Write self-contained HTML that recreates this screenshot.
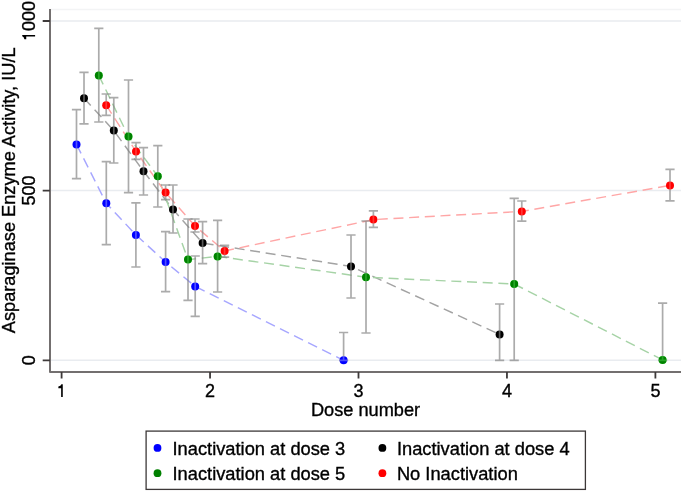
<!DOCTYPE html>
<html><head><meta charset="utf-8"><style>
html,body{margin:0;padding:0;background:#fff;width:685px;height:497px;overflow:hidden}
svg{display:block;filter:blur(0.45px)}
text{font-family:"Liberation Sans",sans-serif}
</style></head><body>
<svg width="685" height="497" viewBox="0 0 685 497">
<rect width="685" height="497" fill="#fff"/>
<g stroke="#e9ecf0" stroke-width="1.5">
<path d="M51,21H681M51,190.6H681M51,360.3H681"/><path stroke="#f3f4f5" d="M51,9.5H681"/>
</g>
<g><polyline points="76.5,144.4 106.3,203.3 135.9,234.9 165.6,262 195.2,286.4 343.6,360.3" fill="none" stroke="#a6a6ff" stroke-width="1.45" stroke-dasharray="10 5.7"/><polyline points="84,98.2 113.8,130.6 143.5,171.2 173,209.4 202.6,243 351,266.4 499.6,334.4" fill="none" stroke="#a3a3a3" stroke-width="1.45" stroke-dasharray="10 5.7"/><polyline points="98.8,75.4 128.5,136.6 157.8,176.3 188,259.6 217.6,256.4 366,277.2 514.2,284 662.6,359.9" fill="none" stroke="#a6d3a6" stroke-width="1.45" stroke-dasharray="10 5.7"/><polyline points="106.2,105.2 136,151.4 165.6,192.6 195,226 224.6,251 373.4,219.6 521.8,211.4 670,185.4" fill="none" stroke="#ffa6a6" stroke-width="1.45" stroke-dasharray="10 5.7"/></g>
<g><circle cx="76.5" cy="144.4" r="4" fill="#0000ff"/><circle cx="106.3" cy="203.3" r="4" fill="#0000ff"/><circle cx="135.9" cy="234.9" r="4" fill="#0000ff"/><circle cx="165.6" cy="262" r="4" fill="#0000ff"/><circle cx="195.2" cy="286.4" r="4" fill="#0000ff"/><circle cx="343.6" cy="360.3" r="4" fill="#0000ff"/><circle cx="84" cy="98.2" r="4" fill="#000000"/><circle cx="113.8" cy="130.6" r="4" fill="#000000"/><circle cx="143.5" cy="171.2" r="4" fill="#000000"/><circle cx="173" cy="209.4" r="4" fill="#000000"/><circle cx="202.6" cy="243" r="4" fill="#000000"/><circle cx="351" cy="266.4" r="4" fill="#000000"/><circle cx="499.6" cy="334.4" r="4" fill="#000000"/><circle cx="98.8" cy="75.4" r="4" fill="#008000"/><circle cx="128.5" cy="136.6" r="4" fill="#008000"/><circle cx="157.8" cy="176.3" r="4" fill="#008000"/><circle cx="188" cy="259.6" r="4" fill="#008000"/><circle cx="217.6" cy="256.4" r="4" fill="#008000"/><circle cx="366" cy="277.2" r="4" fill="#008000"/><circle cx="514.2" cy="284" r="4" fill="#008000"/><circle cx="662.6" cy="359.9" r="4" fill="#008000"/><circle cx="106.2" cy="105.2" r="4" fill="#ff0000"/><circle cx="136" cy="151.4" r="4" fill="#ff0000"/><circle cx="165.6" cy="192.6" r="4" fill="#ff0000"/><circle cx="195" cy="226" r="4" fill="#ff0000"/><circle cx="224.6" cy="251" r="4" fill="#ff0000"/><circle cx="373.4" cy="219.6" r="4" fill="#ff0000"/><circle cx="521.8" cy="211.4" r="4" fill="#ff0000"/><circle cx="670" cy="185.4" r="4" fill="#ff0000"/></g>
<g stroke="rgba(131,131,131,0.68)" stroke-width="1.7" fill="none"><path d="M76.5,109.6V178.6M71.9,109.6H81.1M71.9,178.6H81.1"/><path d="M106.3,161.7V244.6M101.7,161.7H110.89999999999999M101.7,244.6H110.89999999999999"/><path d="M135.9,202.8V267M131.3,202.8H140.5M131.3,267H140.5"/><path d="M165.6,231.6V291.6M161.0,231.6H170.2M161.0,291.6H170.2"/><path d="M195.2,256V316.4M190.6,256H199.79999999999998M190.6,316.4H199.79999999999998"/><path d="M343.6,332.5V360.3M339.0,332.5H348.20000000000005M339.0,360.3H348.20000000000005"/><path d="M84,72.4V123.8M79.4,72.4H88.6M79.4,123.8H88.6"/><path d="M113.8,97.6V163M109.2,97.6H118.39999999999999M109.2,163H118.39999999999999"/><path d="M143.5,147.6V195M138.9,147.6H148.1M138.9,195H148.1"/><path d="M173,185V233M168.4,185H177.6M168.4,233H177.6"/><path d="M202.6,221.6V263.6M198.0,221.6H207.2M198.0,263.6H207.2"/><path d="M351,235V298M346.4,235H355.6M346.4,298H355.6"/><path d="M499.6,304V360.3M495.0,304H504.20000000000005M495.0,360.3H504.20000000000005"/><path d="M98.8,28.4V122M94.2,28.4H103.39999999999999M94.2,122H103.39999999999999"/><path d="M128.5,80V192.6M123.9,80H133.1M123.9,192.6H133.1"/><path d="M157.8,145.6V207M153.20000000000002,145.6H162.4M153.20000000000002,207H162.4"/><path d="M188,219V300.4M183.4,219H192.6M183.4,300.4H192.6"/><path d="M217.6,220.4V292M213.0,220.4H222.2M213.0,292H222.2"/><path d="M366,221V333M361.4,221H370.6M361.4,333H370.6"/><path d="M514.2,198.4V360.3M509.6,198.4H518.8000000000001M509.6,360.3H518.8000000000001"/><path d="M662.6,303.2V360.3M658.0,303.2H667.2M658.0,360.3H667.2"/><path d="M106.2,94V115.4M101.60000000000001,94H110.8M101.60000000000001,115.4H110.8"/><path d="M136,142.6V159.4M131.4,142.6H140.6M131.4,159.4H140.6"/><path d="M165.6,185V199.6M161.0,185H170.2M161.0,199.6H170.2"/><path d="M195,219V232M190.4,219H199.6M190.4,232H199.6"/><path d="M224.6,245.4V257.2M220.0,245.4H229.2M220.0,257.2H229.2"/><path d="M373.4,210.8V227.4M368.79999999999995,210.8H378.0M368.79999999999995,227.4H378.0"/><path d="M521.8,201V221.2M517.1999999999999,201H526.4M517.1999999999999,221.2H526.4"/><path d="M670,169.4V200.8M665.4,169.4H674.6M665.4,200.8H674.6"/></g>
<g style="mix-blend-mode:color"><circle cx="76.5" cy="144.4" r="4" fill="#0000ff"/><circle cx="106.3" cy="203.3" r="4" fill="#0000ff"/><circle cx="135.9" cy="234.9" r="4" fill="#0000ff"/><circle cx="165.6" cy="262" r="4" fill="#0000ff"/><circle cx="195.2" cy="286.4" r="4" fill="#0000ff"/><circle cx="343.6" cy="360.3" r="4" fill="#0000ff"/><circle cx="84" cy="98.2" r="4" fill="#000000"/><circle cx="113.8" cy="130.6" r="4" fill="#000000"/><circle cx="143.5" cy="171.2" r="4" fill="#000000"/><circle cx="173" cy="209.4" r="4" fill="#000000"/><circle cx="202.6" cy="243" r="4" fill="#000000"/><circle cx="351" cy="266.4" r="4" fill="#000000"/><circle cx="499.6" cy="334.4" r="4" fill="#000000"/><circle cx="98.8" cy="75.4" r="4" fill="#008000"/><circle cx="128.5" cy="136.6" r="4" fill="#008000"/><circle cx="157.8" cy="176.3" r="4" fill="#008000"/><circle cx="188" cy="259.6" r="4" fill="#008000"/><circle cx="217.6" cy="256.4" r="4" fill="#008000"/><circle cx="366" cy="277.2" r="4" fill="#008000"/><circle cx="514.2" cy="284" r="4" fill="#008000"/><circle cx="662.6" cy="359.9" r="4" fill="#008000"/><circle cx="106.2" cy="105.2" r="4" fill="#ff0000"/><circle cx="136" cy="151.4" r="4" fill="#ff0000"/><circle cx="165.6" cy="192.6" r="4" fill="#ff0000"/><circle cx="195" cy="226" r="4" fill="#ff0000"/><circle cx="224.6" cy="251" r="4" fill="#ff0000"/><circle cx="373.4" cy="219.6" r="4" fill="#ff0000"/><circle cx="521.8" cy="211.4" r="4" fill="#ff0000"/><circle cx="670" cy="185.4" r="4" fill="#ff0000"/></g>
<path d="M50,9V372H681" stroke="#736f6f" stroke-width="2" fill="none" stroke-linejoin="round"/>
<g stroke="#3e3a3a" stroke-width="1.8" fill="none">
<path d="M42.7,21H50M42.7,190.6H50M42.7,360.3H50"/>
<path d="M61.6,372V378.5M210.04999999999998,372V378.5M358.5,372V378.5M506.95,372V378.5M655.4,372V378.5"/>
</g>
<g font-family="Liberation Sans, sans-serif" fill="#000" stroke="#000" stroke-width="0.35">
<g font-size="18" text-anchor="middle">
<g font-size="18"><g transform="translate(35.1,21.05) rotate(-90)"><path stroke="none" d="M-13.87,0.00V-12.86H-15.21Q-15.82,-11.11 -18.29,-10.70V-8.85H-15.51V0.00Z"/><text x="-10.01" y="0" text-anchor="start">000</text></g></g>
<text font-size="18" transform="translate(35.1,190.6) rotate(-90)">500</text>
<text font-size="18" transform="translate(35.1,360.3) rotate(-90)">0</text>
<path stroke="none" d="M62.77,397.10V384.24H61.44Q60.82,385.99 58.35,386.40V388.25H61.13V397.10Z"/><text x="210.04999999999998" y="397.1">2</text><text x="358.5" y="397.1">3</text><text x="506.95" y="397.1">4</text><text x="655.4" y="397.1">5</text>
</g>
<text font-size="18.2" text-anchor="middle" transform="translate(15.3,190.3) rotate(-90)">Asparaginase Enzyme Activity, IU/L</text>
<text font-size="18.2" text-anchor="middle" x="365.5" y="416.4">Dose number</text>
</g>
<rect x="146.1" y="431.1" width="439.3" height="58.3" fill="none" stroke="#3c3838" stroke-width="1.3"/>
<circle cx="157.5" cy="447.9" r="3.9" fill="#0000ff"/>
<circle cx="157.5" cy="473.2" r="3.9" fill="#008000"/>
<circle cx="382.4" cy="447.9" r="3.9" fill="#000"/>
<circle cx="382.4" cy="473.2" r="3.9" fill="#ff0000"/>
<g font-family="Liberation Sans, sans-serif" font-size="18.3" fill="#000" stroke="#000" stroke-width="0.35">
<text x="172.5" y="454.6">Inactivation at dose 3</text>
<text x="172.5" y="479.8">Inactivation at dose 5</text>
<text x="396.9" y="454.6">Inactivation at dose 4</text>
<text x="396.9" y="479.8">No Inactivation</text>
</g>
</svg>
</body></html>
